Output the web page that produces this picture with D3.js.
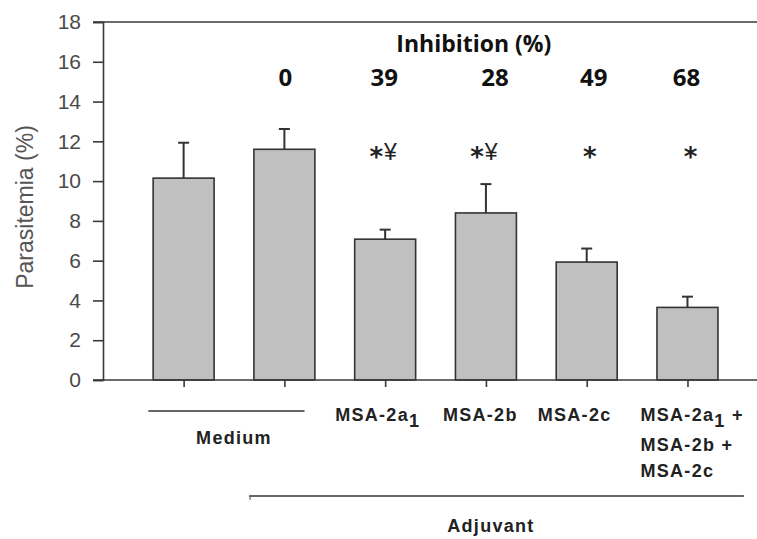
<!DOCTYPE html>
<html>
<head>
<meta charset="utf-8">
<script src="https://cdn.jsdelivr.net/npm/d3@7"></script>
<style>
  body { margin: 0; background: #fff; }
  svg { display: block; }
</style>
</head>
<body>
<svg id="chart" width="757" height="539"></svg>
<script>

// values
var groups = ["Medium", "Medium", "MSA-2a1", "MSA-2b", "MSA-2c", "MSA-2a1 + MSA-2b + MSA-2c"]
var means = [10.15, 11.6, 7.08, 8.4, 5.93, 3.65]
var errs = [1.78, 1.02, 0.48, 1.45, 0.68, 0.54]
var inhibition = ["", "0", "39", "28", "49", "68"]
var stars = ["", "", "*", "*", "*", "*"]
var yen = ["", "", "¥", "¥", "", ""]
var yTicks = [0, 2, 4, 6, 8, 10, 12, 14, 16, 18]

var svg = d3.select("#chart")
var axisColor = "#3a3a3a"

var x = d3.scaleLinear().domain([0.2, 6.69]).range([103, 757])
var y = d3.scaleLinear().domain([0, 18]).range([380, 22])
var barW = x(0.605) - x(0)

var pos = groups.map(function(d, i){ return i + 1 })

// bars
svg.selectAll(".bar")
    .data(means)
  .enter().append("rect")
    .attr("class", "bar")
    .attr("x", function(d, i){ return x(pos[i]) - barW / 2 })
    .attr("y", function(d){ return y(d) })
    .attr("width", barW)
    .attr("height", function(d){ return y(0) - y(d) })
    .style("fill", "#c0c0c0")
    .style("stroke", "#333")
    .style("stroke-width", 1.6)

// upper error bars
var eb = svg.selectAll(".err")
    .data(means)
  .enter().append("g")
    .attr("class", "err")
    .style("stroke", "#333")
    .style("stroke-width", 2)
eb.append("line")
    .attr("x1", function(d, i){ return x(pos[i]) })
    .attr("x2", function(d, i){ return x(pos[i]) })
    .attr("y1", function(d){ return y(d) })
    .attr("y2", function(d, i){ return y(d + errs[i]) })
eb.append("line")
    .attr("x1", function(d, i){ return x(pos[i]) - 5.5 })
    .attr("x2", function(d, i){ return x(pos[i]) + 5.5 })
    .attr("y1", function(d, i){ return y(d + errs[i]) })
    .attr("y2", function(d, i){ return y(d + errs[i]) })

// y axis
var yAxis = svg.append("g")
    .attr("transform", "translate(" + x(0.2) + ",0)")
    .call(d3.axisLeft(y).tickValues(yTicks).tickSize(10).tickPadding(12))
yAxis.select(".domain").style("stroke", axisColor).style("stroke-width", 1.6)
yAxis.selectAll(".tick line").style("stroke", axisColor).style("stroke-width", 1.6)
yAxis.selectAll(".tick text")
    .style("font-family", "'Liberation Sans', Arial, sans-serif")
    .style("font-size", "21px")
    .style("fill", "#4a4a4a")

// top frame line
svg.append("line")
    .attr("x1", x(0.2) - 10).attr("x2", x(6.69))
    .attr("y1", y(18)).attr("y2", y(18))
    .style("stroke", axisColor).style("stroke-width", 1.6)

// bottom axis
var xAxis = svg.append("g")
    .attr("transform", "translate(0," + y(0) + ")")
    .call(d3.axisBottom(x).tickValues(pos).tickSize(7).tickFormat(""))
xAxis.select(".domain").remove()
xAxis.selectAll(".tick line").style("stroke", axisColor).style("stroke-width", 1.6)
svg.append("line")
    .attr("x1", x(0.2) - 10).attr("x2", x(6.69))
    .attr("y1", y(0)).attr("y2", y(0))
    .style("stroke", axisColor).style("stroke-width", 1.6)

// y label
svg.append("text")
    .attr("transform", "translate(33," + 207 + ") rotate(-90)")
    .attr("text-anchor", "middle")
    .style("font-family", "'Liberation Sans', Arial, sans-serif")
    .style("font-size", "23px")
    .style("fill", "#555")
    .text("Parasitemia (%)")

// inhibition header and values
var boldFont = "'Open Sans', sans-serif"
svg.append("text")
    .attr("x", x(3.88)).attr("y", 52)
    .attr("text-anchor", "middle")
    .style("font-family", boldFont).style("font-weight", "bold")
    .style("font-size", "23px").style("fill", "#111")
    .text("Inhibition (%)")

// the printed numbers sit a little off some bar centres
var inhNudge = [0, 1, -1, 9, 7, -1]
svg.selectAll(".inh")
    .data(inhibition)
  .enter().append("text")
    .attr("x", function(d, i){ return x(pos[i]) + inhNudge[i] })
    .attr("y", 86)
    .attr("text-anchor", "middle")
    .style("font-family", boldFont).style("font-weight", "bold")
    .style("font-size", "24px").style("fill", "#111")
    .text(function(d){ return d })

// significance marks
var sig = svg.selectAll(".sig")
    .data(stars)
  .enter().append("text")
    .attr("class", "sig")
    .attr("x", function(d, i){ return x(pos[i]) + (yen[i] ? -2 : 3) })
    .attr("y", 160)
    .attr("text-anchor", "middle")
    .style("fill", "#222")
sig.append("tspan")
    .attr("dy", 6)
    .style("font-family", "'DejaVu Sans', sans-serif")
    .style("font-weight", "bold")
    .style("font-size", "26px")
    .text(function(d){ return d })
sig.append("tspan")
    .attr("dy", -6)
    .attr("dx", 1)
    .style("font-family", "'Liberation Sans', Arial, sans-serif")
    .style("font-size", "23px")
    .text(function(d, i){ return yen[i] })

// group labels
var labFont = "'Liberation Sans', Arial, sans-serif"
function label(sel){
  return sel.style("font-family", labFont).style("font-weight", "bold")
    .style("font-size", "18px").style("fill", "#222").style("letter-spacing", "1.3px")
}
function msaLabel(xp, yp, base, sub, tail){
  var t = label(svg.append("text").attr("x", xp).attr("y", yp))
  t.append("tspan").text(base)
  if (sub) t.append("tspan").attr("dy", 6).text(sub)
  if (tail) t.append("tspan").attr("dy", sub ? -6 : 0).text(tail)
}
msaLabel(x(3) - 50, 421, "MSA-2a", "1", "")
msaLabel(x(4) - 43, 421, "MSA-2b", "", "")
msaLabel(x(5) - 49, 421, "MSA-2c", "", "")
msaLabel(x(6) - 47, 421, "MSA-2a", "1", " +")
msaLabel(x(6) - 47, 451, "MSA-2b +", "", "")
msaLabel(x(6) - 47, 477, "MSA-2c", "", "")

// Medium bracket
svg.append("line")
    .attr("x1", x(0.65)).attr("x2", x(2.2))
    .attr("y1", 411).attr("y2", 411)
    .style("stroke", "#333").style("stroke-width", 1.6)
label(svg.append("text")
    .attr("x", (x(pos[0]) + x(pos[1])) / 2).attr("y", 444)
    .attr("text-anchor", "middle"))
    .text(groups[0])

// Adjuvant bracket
svg.append("line")
    .attr("x1", x(1.65)).attr("x2", x(6.56))
    .attr("y1", 496).attr("y2", 496)
    .style("stroke", "#333").style("stroke-width", 1.6)
svg.append("line")
    .attr("x1", x(1.65) + 1).attr("x2", x(1.65) + 1)
    .attr("y1", 496).attr("y2", 500)
    .style("stroke", "#555").style("stroke-width", 1)
label(svg.append("text")
    .attr("x", x(4.05)).attr("y", 532)
    .attr("text-anchor", "middle"))
    .text("Adjuvant")

</script>
</body>
</html>
